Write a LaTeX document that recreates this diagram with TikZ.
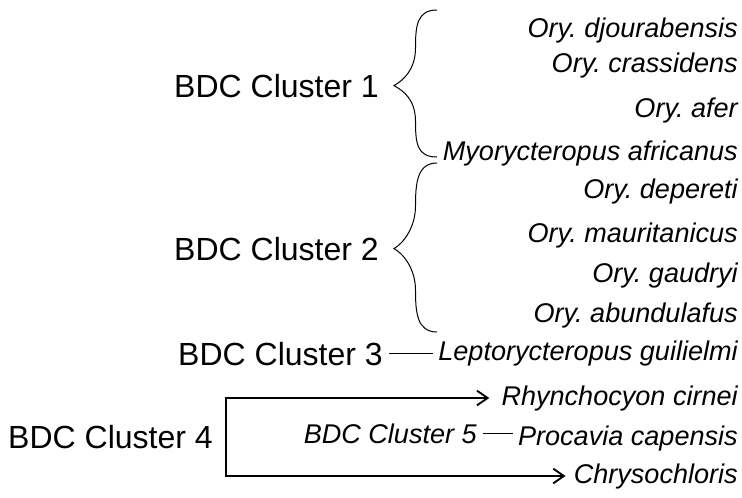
\documentclass[tikz,border=0pt]{standalone}
\usepackage{fontspec}
\setmainfont{Liberation Sans}
\usepackage{tikz}
\usetikzlibrary{arrows.meta, calc}
\frenchspacing
\tikzset{
  clname/.style={anchor=base east, inner sep=0pt,
    font=\fontsize{24pt}{28pt}\selectfont},
  spname/.style={anchor=base east, inner sep=0pt,
    font=\fontsize{20.3pt}{24pt}\selectfont\itshape},
  braceline/.style={line width=0.75pt, color=black},
  link/.style={line width=0.75pt, shorten <=4.5pt, shorten >=3.5pt},
  barrow/.style={<->, >={Straight Barb[length=8pt, width=11pt]}, line width=1.4pt}
}

\begin{document}
\begin{tikzpicture}[x=0.75pt, y=-0.75pt]
  \useasboundingbox (0,0) rectangle (742,497);

  % species column
  \node[spname] (djo) at (738,37) {Ory. djourabensis};
  \node[spname] (cra) at (738,72) {Ory. crassidens};
  \node[spname] (afe) at (738,117) {Ory. afer};
  \node[spname] (myo) at (738,160) {Myorycteropus africanus};
  \node[spname] (dep) at (738,198) {Ory. depereti};
  \node[spname] (mau) at (738,242) {Ory. mauritanicus};
  \node[spname] (gau) at (738,282) {Ory. gaudryi};
  \node[spname] (abu) at (738,322) {Ory. abundulafus};
  \node[spname] (lep) at (738,360) {Leptorycteropus guilielmi};
  \node[spname] (rhy) at (738,405) {Rhynchocyon cirnei};
  \node[spname] (pro) at (738,445) {Procavia capensis};
  \node[spname] (chr) at (738,483) {Chrysochloris};

  % cluster labels
  \node[clname] (cl1) at (379,97) {BDC Cluster 1};
  \node[clname] (cl2) at (379,260) {BDC Cluster 2};
  \node[clname] (cl3) at (383,365) {BDC Cluster 3};
  \node[clname] (cl4) at (213,448) {BDC Cluster 4};
  \node[spname] (cl5) at (477,443) {BDC Cluster 5};

  % brace ends
  \coordinate (b1top) at (437,10);
  \coordinate (b1bot) at (437,157);
  \coordinate (b1tip) at ($(cl1.east)+(15,0)$);
  \coordinate (b2top) at (437,163);
  \coordinate (b2bot) at (437,332);
  \coordinate (b2tip) at ($(cl2.east)+(15,0)$);

  % Cluster 1 brace
  \draw[braceline] (b1top) .. controls +(-20,0) and +(0,-22) .. ($(b1top)!0.5!(b1tip)$)
    .. controls +(0,22) and +(9,-5) .. (b1tip)
    .. controls +(9,5) and +(0,-22) .. ($(b1bot)!0.5!(b1tip)$)
    .. controls +(0,22) and +(-20,0) .. (b1bot);

  % Cluster 2 brace
  \draw[braceline] (b2top) .. controls +(-20,0) and +(0,-22) .. ($(b2top)!0.5!(b2tip)$)
    .. controls +(0,22) and +(9,-5) .. (b2tip)
    .. controls +(9,5) and +(0,-22) .. ($(b2bot)!0.5!(b2tip)$)
    .. controls +(0,22) and +(-20,0) .. (b2bot);

  % single links
  \draw[link] (cl3.east) -- (cl3.east -| lep.west);
  \draw[link] (cl5.east) -- (cl5.east -| pro.west);

  % Cluster 4 bracket
  \coordinate (bk) at ($(cl4.east)+(13,0)$);
  \draw[barrow] ($(rhy.west)+(-12,0)$) -| (bk |- chr.west) -- ($(chr.west)+(-8,0)$);
\end{tikzpicture}
\end{document}
